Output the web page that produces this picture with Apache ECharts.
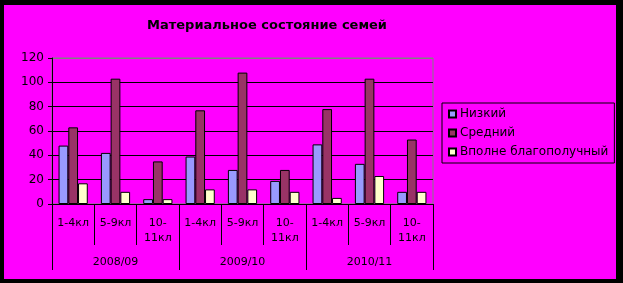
<!DOCTYPE html>
<html><head><meta charset="utf-8">
<script src="https://cdn.jsdelivr.net/npm/echarts@6/dist/echarts.min.js"></script>
<style>html,body{margin:0;padding:0;background:#000;}#c{width:623px;height:283px;}</style>
</head><body><div id="c"></div>
<script>
const title = 'Материальное состояние семей';
const classes = ['1-4кл','5-9кл','10-\n11кл','1-4кл','5-9кл','10-\n11кл','1-4кл','5-9кл','10-\n11кл'];
const years = ['2008/09','2009/10','2010/11'];
const seriesNames = ['Низкий','Средний','Вполне благополучный'];
const low  = [48, 42, 4, 39, 28, 19, 49, 33, 10];
const mid  = [63, 103, 35, 77, 108, 28, 78, 103, 53];
const high = [17, 10, 4, 12, 12, 10, 5, 23, 10];
const yTicks = {min: 0, max: 120, interval: 20};

const colors = ['#9999FF', '#993366', '#FFFFCC'];
const font = 'DejaVu Sans';
const chart = echarts.init(document.getElementById('c'));
chart.setOption({
  backgroundColor: '#000',
  animation: false,
  graphic: [{type: 'rect', shape: {x: 4, y: 5, width: 612, height: 274}, style: {fill: '#FF00FF'}, z: -10, silent: true}],
  title: {text: title, left: 262, top: 14, textAlign: 'center',
    textStyle: {fontFamily: font, fontWeight: 'bold', fontSize: 13, color: '#000'}},
  legend: {orient: 'vertical', left: 442, top: 103, data: seriesNames,
    itemWidth: 7, itemHeight: 7, itemGap: 7, padding: [5, 6, 5, 6],
    borderColor: '#000', borderWidth: 1, icon: 'rect',
    textStyle: {fontFamily: font, fontSize: 12, color: '#000', padding: [0, 0, 0, -1]}},
  grid: {left: 52, top: 58, right: 190, bottom: 79, show: true, borderColor: '#808080', borderWidth: 1, backgroundColor: 'transparent'},
  xAxis: [
    {type: 'category', data: classes, position: 'bottom',
      axisLine: {lineStyle: {color: '#000', width: 1}},
      axisTick: {show: true, length: 41, interval: 0, lineStyle: {color: '#000'}},
      axisLabel: {interval: 0, margin: 12, fontFamily: font, fontSize: 11, color: '#000', lineHeight: 15, align: 'center'}},
    {type: 'category', data: years, position: 'bottom',
      axisLine: {lineStyle: {color: '#000', width: 1}},
      axisTick: {show: true, length: 66, interval: 0, lineStyle: {color: '#000'}},
      axisLabel: {interval: 0, margin: 53, fontFamily: font, fontSize: 11, color: '#000'}}
  ],
  yAxis: {type: 'value', min: yTicks.min, max: yTicks.max, interval: yTicks.interval,
    axisLine: {show: true, lineStyle: {color: '#000'}},
    axisTick: {show: true, length: 4, lineStyle: {color: '#000'}},
    axisLabel: {margin: 8, fontFamily: font, fontSize: 12, color: '#000'},
    splitLine: {lineStyle: {color: ['#000','#000','#000','#000','#000','#000','#808080'], width: 1}}},
  series: [
    {name: seriesNames[0], type: 'bar', data: low, xAxisIndex: 0, barGap: '0%', barCategoryGap: '31%',
      itemStyle: {color: colors[0], borderColor: '#000', borderWidth: 1}},
    {name: seriesNames[1], type: 'bar', data: mid, xAxisIndex: 0, barGap: '0%', barCategoryGap: '31%',
      itemStyle: {color: colors[1], borderColor: '#000', borderWidth: 1}},
    {name: seriesNames[2], type: 'bar', data: high, xAxisIndex: 0, barGap: '0%', barCategoryGap: '31%',
      itemStyle: {color: colors[2], borderColor: '#000', borderWidth: 1}}
  ]
});
</script></body></html>
